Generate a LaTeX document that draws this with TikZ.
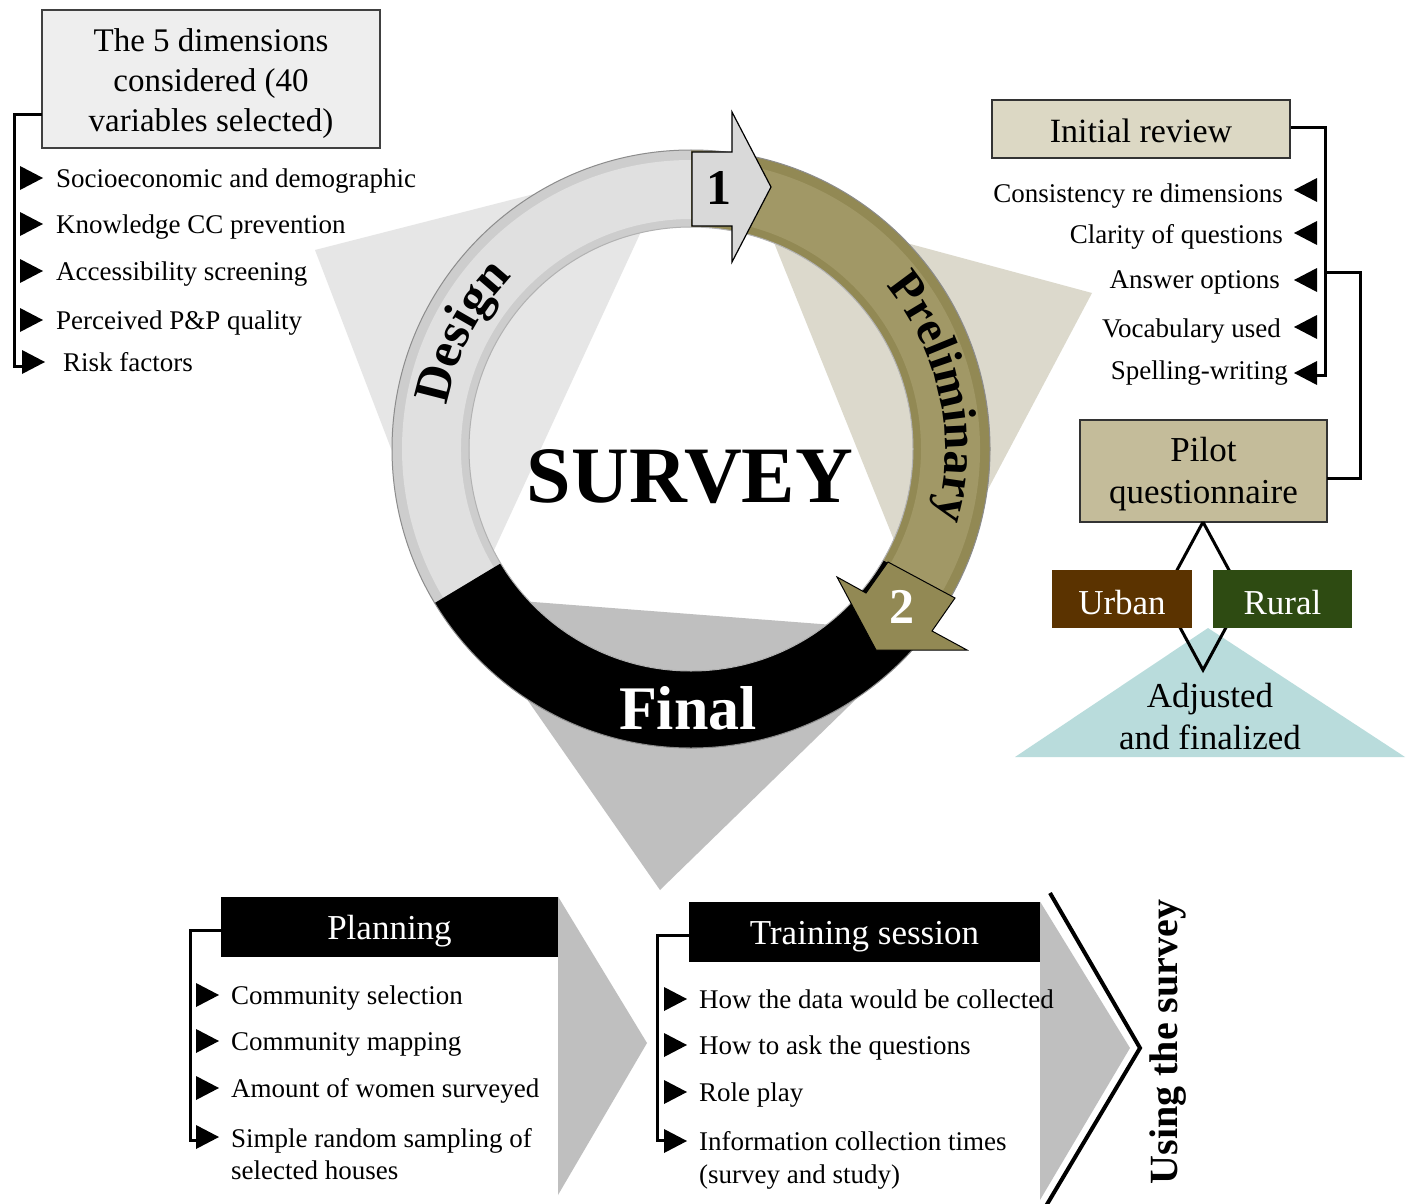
\documentclass[tikz,border=0pt]{standalone}
\usepackage{fontspec}
\setmainfont{Liberation Serif}
\usetikzlibrary{decorations.text}
\definecolor{ringolive}{HTML}{928954}
\definecolor{ringolivelt}{HTML}{A19866}
\definecolor{ringgray}{HTML}{CDCDCD}
\definecolor{ringgraylt}{HTML}{E0E0E0}
\definecolor{trigray}{HTML}{E6E6E6}
\definecolor{tribeige}{HTML}{DCD9CC}
\definecolor{trifinal}{HTML}{BFBFBF}
\definecolor{reviewfill}{HTML}{DCD8C4}
\definecolor{pilotfill}{HTML}{C4BC9A}
\definecolor{urbanfill}{HTML}{5B3300}
\definecolor{ruralfill}{HTML}{2E4B12}
\definecolor{adjfill}{HTML}{B9DCDC}
\definecolor{chevgray}{HTML}{BFBFBF}
\definecolor{arrowgray}{HTML}{D9D9D9}
\definecolor{dimsfill}{HTML}{EEEEEE}
\newcommand\ringseg[5]{\path[#5] ([shift={(#1:#4pt)}]C) arc[start angle=#1, end angle=#2, radius=#4pt] -- ([shift={(#2:#3pt)}]C) arc[start angle=#2, end angle=#1, radius=#3pt] -- cycle;}
\begin{document}
\begin{tikzpicture}[x=1pt,y=-1pt,
  itm/.style={font=\fontsize{27}{32}\selectfont, inner sep=0pt, text height=21pt, text depth=3pt},
  box/.style={draw=black!80, line width=1.2pt, inner sep=0pt, align=center},
  hdr/.style={fill=black, text=white, inner sep=0pt, minimum height=60pt, text height=26pt, text depth=2pt, font=\fontsize{35}{40}\selectfont},
  brk/.style={line width=3pt, line join=miter},
  dia/.style={line width=3pt, line join=miter},
  bulr/.pic={\fill (-11,-12) -- (12,0) -- (-11,12) -- cycle;},
  bull/.pic={\fill (11,-12) -- (-12,0) -- (11,12) -- cycle;}]
\useasboundingbox (0,0) rectangle (1408,1204);
\fill[white] (0,0) rectangle (1408,1204);
\coordinate (C) at (691,449);

% background triangles
\fill[trigray] (315,250) -- (675,158) -- (459,626) -- cycle;
\fill[tribeige] (758,203) -- (1092,293) -- (923,612) -- cycle;
\fill[trifinal] (455,596) -- (925,632) -- (660,890) -- cycle;

% ring
\ringseg{90}{211}{222}{299}{fill=ringgray}
\ringseg{90}{211}{230}{289}{fill=ringgraylt}
\ringseg{211}{330}{222}{299}{fill=black}
\ringseg{-30}{90}{222}{299}{fill=ringolive}
\ringseg{-30}{90}{230}{289}{fill=ringolivelt}
\draw[black!45, line width=1pt] (C) circle[radius=299pt];
\draw[black!30, line width=1pt] (C) circle[radius=222pt];

\path[decorate, decoration={text along path, text format delimiters={|}{|},
  text={|\fontsize{51}{51}\selectfont\bfseries|Design}, text align=center}]
  ([shift={(198:248pt)}]C) arc[start angle=198, end angle=108, radius=248pt];
\path[decorate, decoration={text along path, text format delimiters={|}{|},
  text={|\fontsize{48}{48}\selectfont\bfseries|Preliminary}, text align=center}]
  ([shift={(71:254pt)}]C) arc[start angle=71, end angle=-47, radius=254pt];

% step arrows
\draw[fill=arrowgray, line width=1.2pt, line join=miter] (692,152) -- (732,152) -- (732,112) -- (771,187) -- (732,262) -- (732,226) -- (692,226) -- cycle;
\node[font=\fontsize{50}{50}\selectfont\bfseries, inner sep=0pt] (one) at (719,188) {1};
\draw[fill=ringolive, line width=1pt, line join=miter] (888,562) -- (955,598) -- (932,631) -- (967,650) -- (876,650) -- (837,577) -- (866,593) -- cycle;
\node[font=\fontsize{50}{50}\selectfont\bfseries, text=white, inner sep=0pt] (two) at (902,607) {2};

\node[font=\fontsize{80}{80}\selectfont\bfseries, inner sep=0pt] (survey) at (690,477) {SURVEY};
\node[font=\fontsize{62}{62}\selectfont\bfseries, text=white, inner sep=0pt] (final) at (688,708) {Final};

% top-left panel
\draw[draw=black!75, fill=dimsfill, line width=1.2pt] (42,10) rectangle (380,148);
\node[inner sep=0pt, align=center, font=\fontsize{33}{40}\selectfont] (dims) at (211,84) {The 5 dimensions\\considered (40\\variables selected)};
\coordinate (dimsl) at (42,115);
\node[itm, anchor=west] (l1) at (56,178) {Socioeconomic and demographic};
\node[itm, anchor=west] (l2) at (56,224) {Knowledge CC prevention};
\node[itm, anchor=west] (l3) at (56,271) {Accessibility screening};
\node[itm, anchor=west] (l4) at (56,320) {Perceived P\&P quality};
\node[itm, anchor=west] (l5) at (63,362) {Risk factors};
\coordinate (lb) at (30,366);
\draw[brk] (dimsl) -- (14,115) -- (14,366) -- (lb);
\pic at (31,178) {bulr};
\pic at (31,224) {bulr};
\pic at (31,271) {bulr};
\pic at (31,320) {bulr};
\pic at (33,362) {bulr};

% right panel
\node[box, fill=reviewfill, minimum width=298pt, minimum height=58pt, text height=27pt, text depth=0pt, font=\fontsize{34}{40}\selectfont] (rev) at (1141,129) {Initial review};
\node[itm, anchor=east] (r1) at (1283,193) {Consistency re dimensions};
\node[itm, anchor=east] (r2) at (1283,234) {Clarity of questions};
\node[itm, anchor=east] (r3) at (1280,279) {Answer options};
\node[itm, anchor=east] (r4) at (1281,328) {Vocabulary used};
\node[itm, anchor=east] (r5) at (1288,370) {Spelling-writing};
\pic at (1306,190) {bull};
\pic at (1306,233) {bull};
\pic at (1306,280) {bull};
\pic at (1306,327) {bull};
\pic at (1306,373) {bull};
\coordinate (rb) at (1312,375);
\draw[brk] (rev.east |- 0,128) -- (1325,128) -- (1325,375) -- (rb);
\draw[draw=black!80, fill=pilotfill, line width=1.2pt] (1080,420) rectangle (1327,522);
\node[inner sep=0pt, align=center, font=\fontsize{35}{42}\selectfont] (pilot) at (1203.5,474) {Pilot\\questionnaire};
\coordinate (pilotb) at (1203,522);
\draw[brk] (1325,272) -- (1360,272) -- (1360,478) -- (1327,478);

\fill[adjfill] (1015,757) -- (1208,628) -- (1405,757) -- cycle;
\coordinate (dl) at (1163,596);
\coordinate (dr) at (1243,596);
\coordinate (db) at (1203,670);
\draw[dia] (pilotb) -- (dl) -- (db) -- (dr) -- (pilotb);
\node[inner sep=0pt, fill=urbanfill, text=white, minimum width=140pt, minimum height=58pt, text height=30pt, text depth=0pt, font=\fontsize{35}{40}\selectfont] (urban) at (1122,599) {Urban};
\node[inner sep=0pt, fill=ruralfill, text=white, minimum width=139pt, minimum height=58pt, text height=30pt, text depth=0pt, font=\fontsize{35}{40}\selectfont] (rural) at (1282.5,599) {Rural};
\node[inner sep=0pt, align=center, font=\fontsize{35}{42}\selectfont] (adj) at (1210,717) {Adjusted\\and finalized};

% bottom: planning
\node[hdr, minimum width=337pt] (plan) at (389.5,927) {Planning};
\fill[chevgray] (plan.north east) -- (647,1043) -- (558,1195) -- cycle;
\node[itm, anchor=west] (p1) at (231,995) {Community selection};
\node[itm, anchor=west] (p2) at (231,1041) {Community mapping};
\node[itm, anchor=west] (p3) at (231,1088) {Amount of women surveyed};
\node[itm, anchor=west] (p4) at (231,1138) {Simple random sampling of};
\node[itm, anchor=west] (p4b) at (231,1170) {selected houses};
\coordinate (pb) at (205,1140);
\draw[brk] (plan.west |- 0,930) -- (190,930) -- (190,1140) -- (pb);
\pic at (207,995) {bulr};
\pic at (207,1041) {bulr};
\pic at (207,1088) {bulr};
\pic at (207,1137) {bulr};

% bottom: training
\node[hdr, minimum width=351pt] (train) at (864.5,932) {Training session};
\fill[chevgray] (train.north east) -- (1130,1048) -- (1040,1200) -- cycle;
\draw[line width=4pt, line join=miter] (1050,893) -- (1140,1048) -- (1046,1206);
\node[itm, anchor=west] (t1) at (699,999) {How the data would be collected};
\node[itm, anchor=west] (t2) at (699,1045) {How to ask the questions};
\node[itm, anchor=west] (t3) at (699,1092) {Role play};
\node[itm, anchor=west] (t4) at (699,1141) {Information collection times};
\node[itm, anchor=west] (t4b) at (699,1174) {(survey and study)};
\coordinate (tb) at (672,1140);
\draw[brk] (train.west |- 0,935) -- (657,935) -- (657,1140) -- (tb);
\pic at (675,999) {bulr};
\pic at (675,1045) {bulr};
\pic at (675,1092) {bulr};
\pic at (675,1141) {bulr};

\node[rotate=90, inner sep=0pt, font=\fontsize{40}{40}\selectfont\bfseries] (use) at (1168,1042) {Using the survey};
\end{tikzpicture}
\end{document}
